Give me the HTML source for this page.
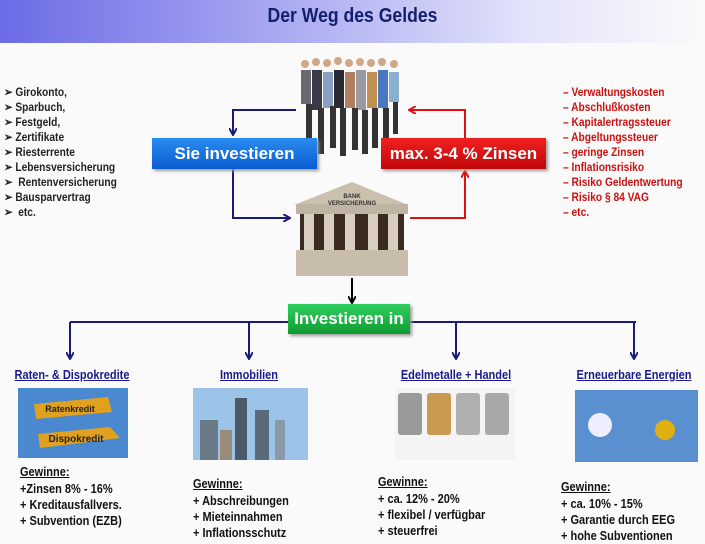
<!DOCTYPE html>
<html><head><meta charset="utf-8"><style>
body{margin:0;width:705px;height:541px;background:#fafafa;position:relative;overflow:hidden;font-family:"Liberation Sans",sans-serif;}
.a{position:absolute;}
.hdr{left:0;top:0;width:705px;height:43px;background:linear-gradient(90deg,#6b6be6 0%,#a9a9f2 40%,#e3e3fa 75%,#fafafa 100%);}
.title{left:0;top:5px;width:705px;text-align:center;font-size:20px;font-weight:bold;color:#141e6e;transform:scaleX(.88);}
.list{font-size:12px;font-weight:bold;line-height:15px;transform-origin:left top;transform:scaleX(.85);}
.box{color:#fff;font-weight:bold;font-size:17px;text-align:center;line-height:31px;box-shadow:2px 2px 3px #999;}
.h{font-size:12.5px;font-weight:bold;color:#1a1a8c;text-decoration:underline;text-align:center;white-space:nowrap;transform:scaleX(.88);}
.g{font-size:12.5px;font-weight:bold;color:#111;line-height:16px;transform-origin:left top;transform:scaleX(.88);white-space:nowrap;}
.g u{display:inline-block;margin-bottom:1px}
</style></head><body>
<div class="a hdr"></div>
<div class="a title">Der Weg des Geldes</div>
<div class="a list" style="left:4px;top:85px;color:#222">➢ Girokonto,<br>➢ Sparbuch,<br>➢ Festgeld,<br>➢ Zertifikate<br>➢ Riesterrente<br>➢ Lebensversicherung<br>➢&nbsp; Rentenversicherung<br>➢ Bausparvertrag<br>➢&nbsp; etc.</div>
<div class="a list" style="left:563px;top:85px;color:#cc1010">– Verwaltungskosten<br>– Abschlußkosten<br>– Kapitalertragssteuer<br>– Abgeltungssteuer<br>– geringe Zinsen<br>– Inflationsrisiko<br>– Risiko Geldentwertung<br>– Risiko § 84 VAG<br>– etc.</div>

<svg class="a" style="left:0;top:0" width="705" height="541">
<defs>
<marker id="mb" markerWidth="8" markerHeight="8" refX="6" refY="4" orient="auto" markerUnits="userSpaceOnUse"><path d="M0,0 L7,4 L0,8" fill="none" stroke="#1a1a7a" stroke-width="2"/></marker>
<marker id="mr" markerWidth="8" markerHeight="8" refX="6" refY="4" orient="auto" markerUnits="userSpaceOnUse"><path d="M0,0 L7,4 L0,8" fill="none" stroke="#e01010" stroke-width="2"/></marker>
<marker id="mk" markerWidth="8" markerHeight="8" refX="6" refY="4" orient="auto" markerUnits="userSpaceOnUse"><path d="M0,0 L7,4 L0,8" fill="none" stroke="#000" stroke-width="2"/></marker>
</defs>
<polyline points="296,110 233,110 233,134" fill="none" stroke="#1a1a7a" stroke-width="2" marker-end="url(#mb)"/>
<polyline points="233,168 233,218 289,218" fill="none" stroke="#1a1a7a" stroke-width="2" marker-end="url(#mb)"/>
<polyline points="410,218 465,218 465,172" fill="none" stroke="#e01010" stroke-width="2" marker-end="url(#mr)"/>
<polyline points="465,138 465,110 410,110" fill="none" stroke="#e01010" stroke-width="2" marker-end="url(#mr)"/>
<line x1="352" y1="278" x2="352" y2="302" stroke="#000" stroke-width="2" marker-end="url(#mk)"/>
<line x1="70" y1="322" x2="636" y2="322" stroke="#1a1a7a" stroke-width="2"/>
<g stroke="#1a1a7a" stroke-width="2" marker-end="url(#mb)">
<line x1="70" y1="322" x2="70" y2="358"/><line x1="249" y1="322" x2="249" y2="358"/>
<line x1="456" y1="322" x2="456" y2="358"/><line x1="634" y1="322" x2="634" y2="358"/></g>
<!-- people -->
<g>
<g fill="#d0a888"><circle cx="305" cy="64" r="4"/><circle cx="316" cy="62" r="4"/><circle cx="327" cy="63" r="4"/><circle cx="338" cy="61" r="4"/><circle cx="349" cy="63" r="4"/><circle cx="360" cy="62" r="4"/><circle cx="371" cy="63" r="4"/><circle cx="382" cy="62" r="4"/><circle cx="394" cy="64" r="4"/></g>
<rect x="301" y="70" width="10" height="34" fill="#6a6a70"/><rect x="312" y="70" width="10" height="40" fill="#3a3a48"/><rect x="323" y="72" width="10" height="36" fill="#8aa0c0"/><rect x="334" y="70" width="10" height="38" fill="#2a2a34"/><rect x="345" y="72" width="10" height="36" fill="#b08060"/><rect x="356" y="70" width="10" height="40" fill="#9a9aa0"/><rect x="367" y="72" width="10" height="36" fill="#c09050"/><rect x="378" y="70" width="10" height="38" fill="#4a78c0"/><rect x="389" y="72" width="10" height="30" fill="#8ab0d0"/>
<g fill="#333"><rect x="306" y="104" width="6" height="44"/><rect x="318" y="108" width="6" height="46"/><rect x="330" y="106" width="6" height="42"/><rect x="340" y="108" width="6" height="48"/><rect x="352" y="108" width="6" height="42"/><rect x="362" y="110" width="6" height="44"/><rect x="372" y="108" width="6" height="40"/><rect x="383" y="108" width="6" height="44"/><rect x="393" y="102" width="5" height="32"/></g>
</g>
<!-- bank -->
<g>
<polygon points="294,205 352,182 408,205" fill="#cbbfae"/>
<rect x="296" y="204" width="112" height="10" fill="#bfb3a3"/>
<rect x="300" y="214" width="104" height="36" fill="#3a2a22"/>
<rect x="304" y="214" width="10" height="36" fill="#d8cebf"/><rect x="324" y="214" width="10" height="36" fill="#d8cebf"/><rect x="345" y="214" width="10" height="36" fill="#d8cebf"/><rect x="368" y="214" width="10" height="36" fill="#d8cebf"/><rect x="388" y="214" width="10" height="36" fill="#d8cebf"/>
<rect x="296" y="250" width="112" height="26" fill="#c8bcab"/>
<text x="352" y="198" font-size="6" text-anchor="middle" fill="#333" font-family="Liberation Sans" font-weight="bold">BANK</text>
<text x="352" y="205" font-size="6" text-anchor="middle" fill="#333" font-family="Liberation Sans" font-weight="bold">VERSICHERUNG</text>
</g>
<!-- images -->
<rect x="18" y="388" width="110" height="70" fill="#4a88d0"/>
<polygon points="34,404 108,397 112,412 36,419" fill="#e0a020"/><text x="70" y="412" font-size="9" font-weight="bold" text-anchor="middle" font-family="Liberation Sans" fill="#222">Ratenkredit</text>
<polygon points="38,434 110,427 120,438 40,448" fill="#e0a020"/><text x="76" y="442" font-size="10" font-weight="bold" text-anchor="middle" font-family="Liberation Sans" fill="#222">Dispokredit</text>
<rect x="193" y="388" width="115" height="72" fill="#9cc4e8"/>
<rect x="200" y="420" width="18" height="40" fill="#6a7a88"/><rect x="235" y="398" width="12" height="62" fill="#4a5a68"/><rect x="255" y="410" width="14" height="50" fill="#5a6a78"/><rect x="275" y="420" width="10" height="40" fill="#8a9aa8"/><rect x="220" y="430" width="12" height="30" fill="#9a8a78"/>
<rect x="395" y="388" width="120" height="72" fill="#f4f4f4"/>
<rect x="398" y="393" width="24" height="42" rx="3" fill="#9a9a9a"/><rect x="427" y="393" width="24" height="42" rx="3" fill="#c89a50"/><rect x="456" y="393" width="24" height="42" rx="3" fill="#b0b0b0"/><rect x="485" y="393" width="24" height="42" rx="3" fill="#a8a8a8"/>
<rect x="575" y="390" width="123" height="72" fill="#5a90d0"/>
<circle cx="600" cy="425" r="12" fill="#eef"/><circle cx="665" cy="430" r="10" fill="#e0b010"/>
</svg>

<div class="a box" style="left:152px;top:138px;width:165px;height:31px;background:linear-gradient(#2a8cf0,#0a5cd0);">Sie investieren</div>
<div class="a box" style="left:381px;top:138px;width:165px;height:31px;background:linear-gradient(#f02020,#c00808);">max. 3-4 % Zinsen</div>
<div class="a box" style="left:288px;top:304px;width:122px;height:30px;line-height:30px;background:linear-gradient(#30d060,#109a30);">Investieren in</div>

<div class="a h" style="left:0;top:368px;width:144px">Raten- &amp; Dispokredite</div>
<div class="a h" style="left:189px;top:368px;width:120px">Immobilien</div>
<div class="a h" style="left:386px;top:368px;width:140px">Edelmetalle + Handel</div>
<div class="a h" style="left:564px;top:368px;width:140px">Erneuerbare Energien</div>

<div class="a g" style="left:20px;top:464px"><u>Gewinne:</u><br>+Zinsen 8% - 16%<br>+ Kreditausfallvers.<br>+ Subvention (EZB)</div>
<div class="a g" style="left:193px;top:476px"><u>Gewinne:</u><br>+ Abschreibungen<br>+ Mieteinnahmen<br>+ Inflationsschutz</div>
<div class="a g" style="left:378px;top:474px"><u>Gewinne:</u><br>+ ca. 12% - 20%<br>+ flexibel / verfügbar<br>+ steuerfrei</div>
<div class="a g" style="left:561px;top:479px"><u>Gewinne:</u><br>+ ca. 10% - 15%<br>+ Garantie durch EEG<br>+ hohe Subventionen</div>
</body></html>
